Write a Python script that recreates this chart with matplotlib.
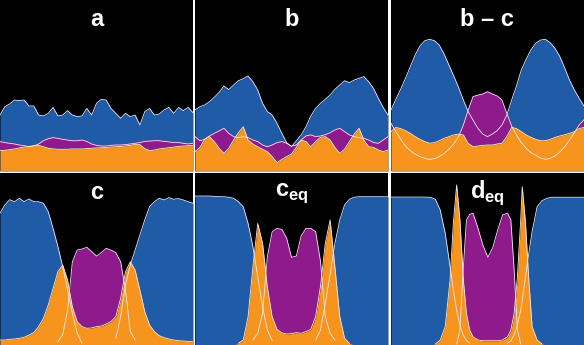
import numpy as np
import matplotlib
matplotlib.use("Agg")
import matplotlib.pyplot as plt

plt.rcParams['font.family'] = ['Liberation Sans', 'DejaVu Sans']
plt.rcParams['mathtext.fontset'] = 'custom'
plt.rcParams['mathtext.bf'] = 'Liberation Sans:bold'
plt.rcParams['mathtext.rm'] = 'Liberation Sans'

# profile positions (percent of box width)
x_grid = np.linspace(0, 100, 41)
x_deq = [0.0, 5.1, 10.2, 15.3, 20.4, 23.0, 25.5, 28.1, 30.6, 32.3, 34.0, 35.7, 37.4,
         39.1, 40.8, 42.5, 45.1, 47.6, 50.2, 52.7, 55.3, 57.8, 60.4, 62.1, 63.8,
         65.5, 67.2, 68.0, 69.7, 71.4, 73.1, 75.7, 78.2, 80.8, 83.3, 88.4, 93.5, 100.0]

# panel a
a_blue = [32.7, 37.6, 39.2, 41.5, 41.1, 41.5, 38.0, 38.0, 32.7, 32.2,
          33.7, 37.2, 32.2, 32.7, 35.3, 32.7, 31.8, 32.2, 36.6, 32.7,
          39.6, 41.9, 41.5, 36.6, 33.7, 30.8, 33.7, 31.8, 32.7, 26.9,
          34.7, 36.6, 32.7, 33.3, 35.7, 37.2, 33.7, 37.2, 35.3, 37.2, 34.1]
a_purple = [17.2, 16.6, 16.2, 15.8, 15.2, 14.8, 14.2, 14.6, 15.8, 17.7,
            18.9, 19.5, 19.1, 18.5, 18.1, 17.7, 17.7, 18.1, 17.3, 15.8,
            15.0, 14.6, 14.6, 15.0, 15.2, 15.2, 15.4, 15.8, 16.2, 16.6,
            17.3, 17.5, 17.7, 17.7, 17.3, 17.0, 16.6, 16.6, 16.2, 15.8, 16.2]
a_orange = [11.9, 12.1, 12.5, 12.9, 13.5, 14.0, 14.4, 14.8, 15.0, 14.2,
            13.3, 12.9, 12.7, 12.7, 12.7, 12.9, 12.9, 12.9, 13.1, 13.3,
            13.5, 13.6, 13.8, 14.0, 14.2, 14.4, 14.6, 15.0, 15.6, 15.4,
            13.1, 11.9, 12.3, 12.9, 13.3, 13.6, 14.0, 14.4, 14.6, 14.8, 14.8]

# panel b
b_blue = [35.7, 37.6, 38.6, 40.5, 43.1, 46.0, 49.7, 47.6, 50.3, 52.8,
          54.0, 55.6, 52.2, 47.4, 39.6, 34.7, 32.7, 27.9, 22.0, 16.6,
          14.2, 17.7, 21.1, 25.9, 32.2, 36.6, 39.6, 41.9, 44.4, 47.8,
          50.3, 52.8, 51.7, 53.2, 54.2, 55.2, 52.2, 48.3, 42.5, 37.2, 32.7]
b_purple = [20.1, 17.7, 18.5, 20.5, 22.0, 23.4, 25.0, 22.0, 20.1, 19.5,
            20.1, 19.5, 18.1, 17.2, 15.2, 14.2, 15.2, 16.6, 17.2, 16.2,
            14.6, 15.2, 18.1, 20.5, 21.1, 20.1, 20.5, 21.2, 22.4, 24.0,
            25.0, 23.0, 21.1, 20.1, 19.5, 19.1, 18.1, 16.6, 16.2, 18.1, 20.1]
b_orange = [11.3, 13.8, 18.5, 20.1, 17.2, 13.3, 10.3, 13.3, 18.1, 22.4,
            25.9, 18.1, 15.8, 14.2, 12.7, 11.3, 8.4, 4.9, 6.8, 8.4,
            9.9, 13.8, 18.1, 17.2, 14.2, 17.2, 19.7, 20.1, 18.1, 13.8,
            10.3, 12.7, 17.2, 21.6, 25.0, 18.1, 14.2, 13.8, 12.3, 11.3, 12.3]

# panel b - c
bc_blue = [35.7, 41.9, 47.8, 54.2, 61.0, 67.8, 73.1, 76.2, 77.0, 76.2,
           73.7, 68.4, 62.0, 55.6, 48.9, 41.5, 34.7, 29.8, 25.0, 21.6,
           20.1, 21.6, 23.6, 26.9, 32.7, 41.5, 49.7, 59.1, 65.3, 70.8,
           74.7, 76.6, 77.0, 75.0, 71.7, 66.9, 60.2, 53.2, 47.4, 42.5, 38.0]
bc_purple = [27.9, 23.0, 18.5, 14.6, 11.9, 9.9, 8.4, 7.4, 6.8, 7.2,
             8.4, 10.3, 12.7, 15.8, 20.1, 26.9, 35.7, 43.5, 44.4, 45.0,
             46.4, 45.0, 43.9, 41.5, 33.7, 26.3, 21.1, 16.6, 13.3, 10.7,
             9.2, 7.6, 6.8, 7.4, 8.8, 11.1, 14.2, 18.1, 22.4, 26.9, 30.0]
bc_orange = [23.0, 25.5, 24.8, 23.6, 22.0, 20.1, 18.5, 17.2, 16.2, 16.6,
             17.7, 19.1, 20.1, 21.1, 21.6, 21.1, 16.2, 14.2, 14.6, 15.0,
             15.2, 15.2, 15.8, 16.2, 20.1, 25.5, 24.8, 23.0, 21.1, 19.7,
             18.5, 17.7, 17.7, 18.5, 19.7, 20.5, 21.2, 22.0, 23.0, 24.8, 25.5]

# panel c
c_blue = [76.6, 81.4, 84.5, 83.3, 85.3, 83.3, 84.9, 83.3, 83.3, 82.4,
          77.5, 67.8, 57.2, 45.5, 32.0, 18.4, 6.8, 1.0, 0, 0,
          0, 0, 0, 0, 3.9, 16.5, 34.9, 46.5, 55.2, 64.0,
          72.7, 80.4, 83.3, 85.3, 84.3, 85.7, 84.7, 85.1, 84.3, 83.3, 82.4]
c_purple = [0, 0, 0, 0, 0, 0, 0, 0, 0, 0,
            0, 0, 2.0, 6.0, 20.0, 48.4, 55.2, 55.8, 56.8, 54.3,
            51.7, 53.7, 56.2, 55.2, 53.7, 48.4, 32.0, 8.0, 3.0, 0,
            0, 0, 0, 0, 0, 0, 0, 0, 0, 0, 0]
c_orange = [2.9, 2.9, 3.3, 3.5, 3.9, 4.5, 5.8, 7.2, 10.7, 15.5,
            23.3, 32.9, 42.6, 46.5, 37.8, 22.3, 13.6, 10.7, 9.7, 9.9,
            10.7, 11.0, 12.2, 13.6, 16.5, 27.1, 42.6, 48.4, 43.6, 31.8,
            19.4, 11.6, 7.8, 5.4, 4.3, 3.5, 2.9, 2.5, 2.3, 2.1, 1.9]

# panel c_eq
ceq_blue = [86.6, 86.6, 86.6, 86.6, 86.4, 86.2, 86.2, 85.9, 85.3, 83.3,
            80.4, 70.7, 57.2, 39.7, 22.3, 8.7, 2.5, 0, 0, 0,
            0, 0, 0, 0, 0, 2.9, 8.7, 24.2, 41.1, 59.1,
            72.7, 81.4, 84.7, 85.9, 86.2, 86.2, 86.2, 86.2, 86.2, 86.2, 86.2]
ceq_purple = [0, 0, 0, 0, 0, 0, 0, 0, 0, 0,
              0, 0, 2.9, 6.8, 18.4, 51.4, 65.9, 67.8, 67.2, 62.0,
              51.0, 51.7, 63.4, 67.8, 67.8, 65.9, 48.8, 16.5, 6.8, 2.9,
              0, 0, 0, 0, 0, 0, 0, 0, 0, 0, 0]
ceq_orange = [0, 0, 0, 0, 0, 0, 0, 0, 0, 1.0,
              2.9, 16.5, 45.3, 70.7, 59.1, 33.9, 16.5, 9.1, 7.0, 6.4,
              6.6, 7.2, 6.8, 7.8, 9.1, 16.5, 33.9, 59.1, 72.7, 45.3,
              16.5, 3.9, 1.0, 0, 0, 0, 0, 0, 0, 0, 0]

# panel d_eq
deq_blue = [86.0, 86.0, 86.0, 86.0, 85.9, 84.7, 78.5, 64.9, 45.5, 32.0,
            20.3, 11.6, 5.8, 2.5, 1.0, 0, 0, 0, 0, 0,
            0, 0, 1.0, 2.5, 5.8, 11.6, 20.3, 26.2, 39.7, 53.3,
            65.9, 80.4, 83.9, 85.3, 85.9, 85.9, 85.9, 85.9]
deq_purple = [0, 0, 0, 0, 0, 0, 0, 0, 0, 0,
              0.6, 8.7, 43.6, 72.7, 76.0, 76.6, 67.8, 58.1, 51.0, 56.6,
              66.9, 75.6, 76.6, 72.7, 43.6, 8.7, 0.6, 0, 0, 0,
              0, 0, 0, 0, 0, 0, 0, 0]
deq_orange = [0, 0, 0, 0, 0, 0.6, 2.9, 10.7, 37.8, 70.7,
              93.0, 72.7, 39.7, 18.4, 8.7, 4.8, 2.9, 2.5, 2.5, 2.5,
              2.5, 2.9, 4.8, 8.7, 18.4, 39.7, 72.7, 92.1, 70.7, 37.8,
              10.7, 2.9, 0.6, 0, 0, 0, 0, 0]

labels = ['a', 'b', 'b \u2013 c', 'c', r'$\mathbf{c}_{\mathbf{eq}}$', r'$\mathbf{d}_{\mathbf{eq}}$']
panels = [
    (x_grid, a_blue, a_purple, a_orange),
    (x_grid, b_blue, b_purple, b_orange),
    (x_grid, bc_blue, bc_purple, bc_orange),
    (x_grid, c_blue, c_purple, c_orange),
    (x_grid, ceq_blue, ceq_purple, ceq_orange),
    (x_deq, deq_blue, deq_purple, deq_orange),
]

BLUE = '#1f5ba6'
PURPLE = '#8e1a8c'
ORANGE = '#f7941d'
EDGE = '#f2e8f2'

W, H = 584, 345
fig = plt.figure(figsize=(W / 100, H / 100), dpi=100, facecolor='white')

col_left = [0, 195, 391]
col_w = [193, 193, 193]
row_top = [0, 173]
row_h = [171, 172]

for i, (x, blue, purple, orange) in enumerate(panels):
    r, c = divmod(i, 3)
    ax = fig.add_axes([col_left[c] / W, (H - row_top[r] - row_h[r]) / H,
                       col_w[c] / W, row_h[r] / H])
    ax.set_facecolor('black')
    x = np.asarray(x, dtype=float)
    blue = np.asarray(blue, dtype=float)
    purple = np.asarray(purple, dtype=float)
    orange = np.asarray(orange, dtype=float)

    ax.fill_between(x, 0, blue, color=BLUE, lw=0)
    ax.fill_between(x, 0, orange, color=ORANGE, lw=0)
    ax.fill_between(x, orange, purple, where=purple > orange,
                    interpolate=True, color=PURPLE, lw=0)
    for y in (blue, purple, orange):
        ax.plot(x, np.where(y > 0, y, np.nan), color=EDGE, lw=0.6)

    ax.text(0.5, 0.885, labels[i], transform=ax.transAxes, ha='center',
            va='center', color='white', fontsize=17, fontweight='bold')
    ax.set_xlim(0, 100)
    ax.set_ylim(0, 100)
    ax.set_xticks([])
    ax.set_yticks([])
    for s in ax.spines.values():
        s.set_visible(False)

fig.savefig('out.png', dpi=100, facecolor='white')
